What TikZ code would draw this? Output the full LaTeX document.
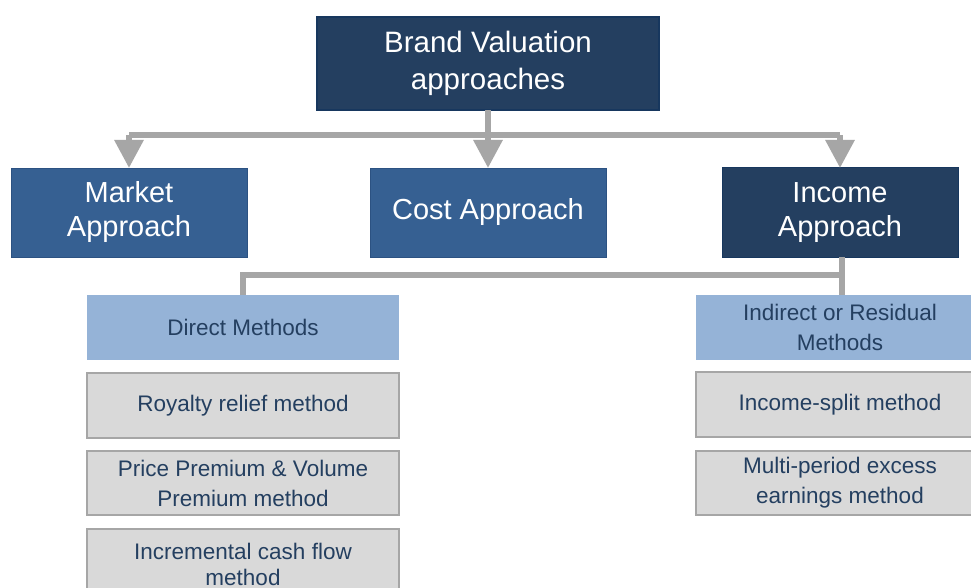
\documentclass[tikz,border=0pt]{standalone}
\usepackage{fontspec}
\setmainfont{Liberation Sans}
\usetikzlibrary{arrows.meta}
\definecolor{navy}{HTML}{243F60}
\definecolor{navyline}{HTML}{17375E}
\definecolor{midblue}{HTML}{366092}
\definecolor{midline}{HTML}{2C5282}
\definecolor{lightblue}{HTML}{95B3D7}
\definecolor{boxgray}{HTML}{D9D9D9}
\definecolor{linegray}{HTML}{A6A6A6}
\definecolor{txtnavy}{HTML}{243F60}
\tikzset{
  x=1pt, y=1pt,
  basebox/.style={rectangle, inner sep=0pt, outer sep=0pt, align=center},
  topbox/.style={basebox, fill=navy, draw=navyline, line width=1.5pt, text=white,
    font=\fontsize{29.5}{37}\selectfont},
  darkbox/.style={basebox, fill=navy, draw=navyline, line width=1pt, text=white,
    font=\fontsize{29}{34}\selectfont},
  midbox/.style={basebox, fill=midblue, draw=midline, line width=0.8pt, text=white,
    font=\fontsize{29}{34}\selectfont},
  lightbox/.style={basebox, fill=lightblue, text=txtnavy,
    font=\fontsize{22.5}{30}\selectfont},
  graybox/.style={basebox, fill=boxgray, draw=linegray, line width=1.5pt, text=txtnavy,
    font=\fontsize{22.5}{30}\selectfont},
  bar/.style={draw=linegray, line width=6pt},
  arrowbar/.style={draw=linegray, line width=6pt, -{Triangle[width=28pt,length=28pt]}},
}
\begin{document}
\begin{tikzpicture}
\useasboundingbox (0,0) rectangle (971,-588);
\clip (0,0) rectangle (971,-588);
\fill[white] (0,0) rectangle (971,-588);

% top
\node[topbox, minimum width=342, minimum height=93] (top) at (488,-63.5) {Brand Valuation\\approaches};

% level 2
\node[midbox, minimum width=236, minimum height=89] (market) at (129,-212.5) {Market\\Approach};
\node[midbox, minimum width=236, minimum height=89] (cost) at (488,-212.5) {Cost Approach};
\node[darkbox, minimum width=236, minimum height=89] (income) at (840,-212.5) {Income\\Approach};

% level 3
\node[lightbox, minimum width=312, minimum height=65] (direct) at (243,-327.5) {\raisebox{-3pt}{Direct Methods}};
\node[lightbox, minimum width=288, minimum height=65] (indirect) at (840,-327.5) {Indirect or Residual\\Methods};

\node[graybox, minimum width=312, minimum height=65] (royalty) at (243,-405.5) {\raisebox{-2pt}{Royalty relief method}};
\node[graybox, minimum width=312, minimum height=64] (premium) at (243,-483) {Price Premium \& Volume\\Premium method};
\node[graybox, minimum width=312, minimum height=70, font=\fontsize{22.5}{26}\selectfont] (incr) at (243,-564) {Incremental cash flow\\method};

\node[graybox, minimum width=288, minimum height=65] (split) at (840,-404.5) {\raisebox{-1pt}{Income-split method}};
\node[graybox, minimum width=288, minimum height=64] (multi) at (840,-483) {Multi-period excess\\earnings method};

% connectors from top
\coordinate (hb) at (488,-135.5);
\draw[bar] (top.south) -- (hb);
\draw[bar] (market.north |- hb) -- (income.north |- hb);
\draw[arrowbar] (market.north |- hb) -- (market.north);
\draw[arrowbar] (cost.north |- hb) -- (cost.north);
\draw[arrowbar] (income.north |- hb) -- (income.north);

% connectors from income
\coordinate (hb2) at (842,-275);
\draw[bar] (income.south -| hb2) -- (indirect.north -| hb2);
\draw[bar] (hb2) -- (direct.north |- hb2) -- (direct.north);
\end{tikzpicture}
\end{document}
